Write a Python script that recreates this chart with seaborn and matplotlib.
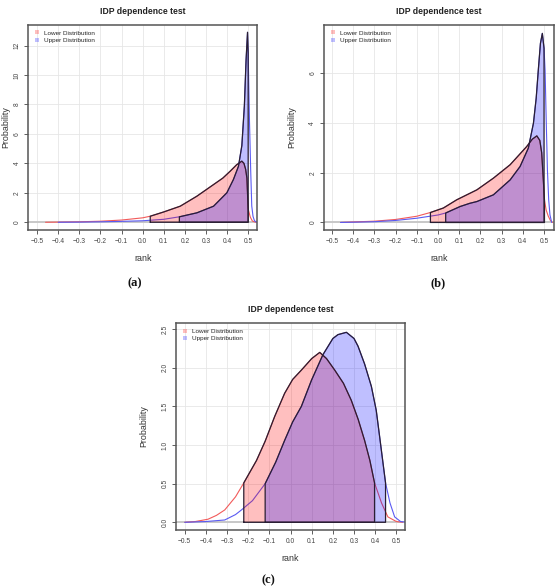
import numpy as np
import seaborn as sns
import matplotlib.pyplot as plt
from matplotlib.patches import Patch

# ---- data (rank vs density) ----
# panel (a)
lower_a_x = [-0.46, -0.4, -0.3, -0.2, -0.1, 0.0, 0.036, 0.1, 0.178, 0.257, 0.336, 0.38, 0.415,
             0.445, 0.47, 0.48, 0.488, 0.494, 0.5, 0.51, 0.52, 0.535]
lower_a_y = [0.0, 0.01, 0.03, 0.07, 0.15, 0.3, 0.41, 0.7, 1.09, 1.77, 2.56, 3.0, 3.47,
             3.9, 4.15, 4.0, 3.6, 3.0, 0.9, 0.35, 0.08, 0.0]
upper_a_x = [-0.4, -0.3, -0.2, -0.1, 0.0, 0.1, 0.174, 0.257, 0.336, 0.399, 0.43, 0.454, 0.47,
             0.482, 0.49, 0.497, 0.5, 0.506, 0.512, 0.517, 0.523, 0.53, 0.54]
upper_a_y = [0.0, 0.01, 0.03, 0.06, 0.1, 0.2, 0.37, 0.64, 1.09, 2.0, 2.9, 3.8, 5.2,
             7.9, 11.0, 12.9, 11.5, 7.0, 3.5, 1.1, 0.4, 0.1, 0.0]
ci_a = [(0.036, 0.5), (0.174, 0.5)]

# panel (b)
lower_b_x = [-0.46, -0.4, -0.3, -0.2, -0.1, -0.036, 0.025, 0.088, 0.183, 0.261, 0.34, 0.418,
             0.445, 0.466, 0.48, 0.489, 0.496, 0.502, 0.51, 0.52, 0.53, 0.54]
lower_b_y = [0.0, 0.02, 0.05, 0.12, 0.25, 0.4, 0.58, 0.91, 1.31, 1.78, 2.32, 3.05,
             3.35, 3.48, 3.3, 2.8, 1.8, 0.9, 0.5, 0.25, 0.08, 0.0]
upper_b_x = [-0.46, -0.4, -0.3, -0.2, -0.1, 0.0, 0.036, 0.104, 0.15, 0.183, 0.261, 0.34, 0.387,
             0.426, 0.45, 0.463, 0.473, 0.483, 0.492, 0.5, 0.505, 0.51, 0.516, 0.522, 0.528, 0.536]
upper_b_y = [0.0, 0.01, 0.03, 0.08, 0.17, 0.3, 0.38, 0.64, 0.77, 0.84, 1.11, 1.71, 2.25,
             2.99, 3.99, 5.0, 6.13, 7.2, 7.6, 7.0, 6.1, 4.2, 2.1, 0.9, 0.3, 0.0]
ci_b = [(-0.036, 0.502), (0.036, 0.5)]

# panel (c)
lower_c_x = [-0.5, -0.45, -0.39, -0.35, -0.311, -0.26, -0.221, -0.19, -0.161, -0.12, -0.075,
             -0.028, 0.01, 0.051, 0.1, 0.138, 0.17, 0.209, 0.25, 0.287, 0.32, 0.35, 0.375,
             0.397, 0.43, 0.46, 0.5, 0.53]
lower_c_y = [0.0, 0.01, 0.04, 0.09, 0.16, 0.33, 0.51, 0.66, 0.8, 1.05, 1.37,
             1.67, 1.85, 1.97, 2.12, 2.2, 2.12, 1.97, 1.8, 1.58, 1.33, 1.06, 0.8,
             0.51, 0.25, 0.07, 0.01, 0.0]
upper_c_x = [-0.5, -0.4, -0.311, -0.26, -0.232, -0.18, -0.12, -0.07, -0.028, 0.01, 0.051,
             0.099, 0.153, 0.2, 0.224, 0.264, 0.3, 0.319, 0.35, 0.382, 0.405, 0.421, 0.449,
             0.47, 0.492, 0.52, 0.55]
upper_c_y = [0.0, 0.01, 0.03, 0.1, 0.16, 0.28, 0.5, 0.78, 1.06, 1.3, 1.5,
             1.84, 2.17, 2.38, 2.43, 2.46, 2.38, 2.28, 2.05, 1.76, 1.45, 1.11, 0.51,
             0.25, 0.07, 0.01, 0.0]
ci_c = [(-0.221, 0.397), (-0.12, 0.449)]

x_ticks = [-0.5, -0.4, -0.3, -0.2, -0.1, 0.0, 0.1, 0.2, 0.3, 0.4, 0.5]
y_ticks_a = [0, 2, 4, 6, 8, 10, 12]
y_ticks_b = [0, 2, 4, 6]
y_ticks_c = [0.0, 0.5, 1.0, 1.5, 2.0, 2.5]
legend_labels = ["Lower Distribution", "Upper Distribution"]

sns.set_style("white")
plt.rcParams['font.family'] = ['Liberation Sans', 'DejaVu Sans']
plt.rcParams['axes.unicode_minus'] = True

fig = plt.figure(figsize=(5.55, 5.88), dpi=100)

line_cols = ["#f25a5a", "#5a5af2"]
fill_cols = [(1, 0, 0, 0.25), (0, 0, 1, 0.25)]


def panel(rect, curves, cis, yticks, ylim, xlim, ylabfmt, ylab_px=28):
    ax = fig.add_axes(rect)
    ax.set_xlim(*xlim)
    ax.set_ylim(*ylim)
    for t in x_ticks:
        ax.axvline(t, color="#e6e6e6", lw=0.6, zorder=0)
    for t in yticks:
        ax.axhline(t, color="#e6e6e6", lw=0.6, zorder=0)
    ax.axhline(0, color="#c8c8c8", lw=1.4, zorder=0.5)
    for (cx, cy), (lo, hi), lc, fc in zip(curves, cis, line_cols, fill_cols):
        cx = np.array(cx); cy = np.array(cy)
        sns.lineplot(x=cx, y=cy, ax=ax, color=lc, lw=0.8, sort=False,
                     estimator=None, legend=False, zorder=2)
        m = (cx >= lo - 1e-9) & (cx <= hi + 1e-9)
        px = np.concatenate([[cx[m][0]], cx[m], [cx[m][-1]]])
        py = np.concatenate([[0], cy[m], [0]])
        ax.fill(px, py, facecolor=fc, edgecolor="none", zorder=3)
        ax.plot(np.append(px, px[0]), np.append(py, py[0]), color="#2a1f33", lw=0.9, zorder=4)
    ax.set_xticks(x_ticks)
    ax.set_xticklabels([f"{t:.1f}".replace("-", "\u2212") for t in x_ticks])
    ax.set_yticks(yticks)
    ax.set_yticklabels([ylabfmt(t) for t in yticks], rotation=90, va="center")
    ax.tick_params(axis="both", labelsize=4.8, colors="#444444", length=3, width=0.6,
                   direction="out", pad=2.5, bottom=True, left=True)
    for s in ax.spines.values():
        s.set_color("#555555")
        s.set_linewidth(1.1)
    ax.set_title("IDP dependence test", fontsize=6.2, fontweight="bold", pad=8, color="#222222")
    ax.set_xlabel("rank", fontsize=6.4, color="#333333")
    ax.set_ylabel("Probability", fontsize=6.4, color="#333333")
    ax.xaxis.set_label_coords(0.5, -0.118)
    ax.yaxis.set_label_coords(-ylab_px / (rect[2] * 555), 0.5)
    handles = [Patch(facecolor=c, edgecolor="none") for c in fill_cols]
    ax.legend(handles, legend_labels, loc="upper left", frameon=False, fontsize=4.6,
              handlelength=0.6, handleheight=0.6, handletextpad=0.8, labelspacing=0.3,
              borderaxespad=0.3, bbox_to_anchor=(0.01, 0.995))
    return ax


panel([0.0505, 0.609, 0.413, 0.3486],
      [(lower_a_x, lower_a_y), (upper_a_x, upper_a_y)], ci_a,
      y_ticks_a, (-0.52, 13.4), (-0.543, 0.543), lambda t: f"{t:d}", ylab_px=17.5)
panel([0.5838, 0.609, 0.4144, 0.3486],
      [(lower_b_x, lower_b_y), (upper_b_x, upper_b_y)], ci_b,
      y_ticks_b, (-0.3, 7.94), (-0.538, 0.547), lambda t: f"{t:d}")
panel([0.318, 0.0986, 0.411, 0.352],
      [(lower_c_x, lower_c_y), (upper_c_x, upper_c_y)], ci_c,
      y_ticks_c, (-0.1, 2.58), (-0.539, 0.539), lambda t: f"{t:.1f}")

for lab, x, y in [("(a)", 0.243, 0.519), ("(b)", 0.79, 0.519), ("(c)", 0.483, 0.0136)]:
    fig.text(x, y, lab, ha="center", va="center", fontsize=9, fontweight="bold",
             family=["Liberation Serif", "DejaVu Serif"], color="#111111")

fig.savefig("out.png", dpi=100)
